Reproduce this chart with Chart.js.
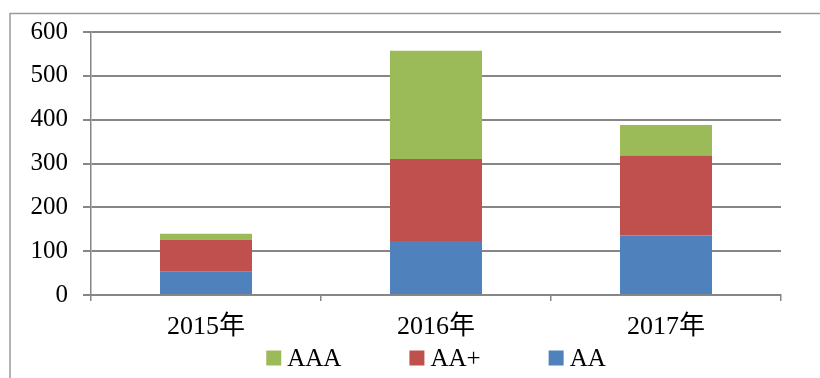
<!DOCTYPE html>
<html>
<head>
<meta charset="utf-8">
<script src="https://cdn.jsdelivr.net/npm/chart.js@4/dist/chart.umd.min.js"></script>
<style>
  html, body { margin: 0; padding: 0; background: #fff; }
  #wrap { width: 820px; height: 378px; position: relative; }
</style>
</head>
<body>
<div id="wrap"><canvas id="c" width="820" height="378"></canvas></div>
<script>
const categories = ["2015年", "2016年", "2017年"];
const aaValues = [53, 123, 136];
const aaPlusValues = [73, 187, 182];
const aaaValues = [14, 247, 70];
const yTicks = [0, 100, 200, 300, 400, 500, 600];

const serif = "'Liberation Serif', 'Times New Roman', 'Noto Sans CJK SC', serif";

// outer frame (top + left edge of the original Excel chart box)
const framePlugin = {
  id: "frame",
  beforeDraw(chart) {
    const ctx = chart.ctx;
    ctx.save();
    ctx.strokeStyle = "#9a9a9a";
    ctx.lineWidth = 1.5;
    ctx.beginPath();
    ctx.moveTo(10, 378);
    ctx.lineTo(10, 13.5);
    ctx.lineTo(820, 13.5);
    ctx.stroke();
    ctx.restore();
  }
};

// legend drawn in Excel spacing: AAA, AA+, AA
const legendPlugin = {
  id: "xlLegend",
  afterDraw(chart) {
    const ctx = chart.ctx;
    const items = chart.data.datasets.slice().reverse();
    const box = 15, gapText = 6, gapItem = 68, y = 358;
    ctx.save();
    ctx.font = "25px " + serif;
    ctx.textBaseline = "middle";
    const widths = items.map(d => box + gapText + ctx.measureText(d.label).width);
    const total = widths.reduce((a, b) => a + b, 0) + gapItem * (items.length - 1);
    let x = (chart.chartArea.left + chart.chartArea.right) / 2 - total / 2;
    items.forEach((d, i) => {
      ctx.fillStyle = d.backgroundColor;
      ctx.fillRect(x, y - box / 2, box, box);
      ctx.fillStyle = "#000";
      ctx.fillText(d.label, x + box + gapText, y + 1);
      x += widths[i] + gapItem;
    });
    ctx.restore();
  }
};

new Chart(document.getElementById("c").getContext("2d"), {
  type: "bar",
  data: {
    labels: categories,
    datasets: [
      { label: "AA", data: aaValues, backgroundColor: "#4f81bd" },
      { label: "AA+", data: aaPlusValues, backgroundColor: "#c0504d" },
      { label: "AAA", data: aaaValues, backgroundColor: "#9bbb59" }
    ]
  },
  options: {
    responsive: false,
    animation: false,
    layout: { padding: { left: 0, top: 32, right: 39, bottom: 28 } },
    datasets: { bar: { barPercentage: 0.4, categoryPercentage: 1 } },
    plugins: { legend: { display: false }, tooltip: { enabled: false } },
    scales: {
      x: {
        stacked: true,
        grid: { drawOnChartArea: false, color: "#868686", lineWidth: 1.5, tickLength: 6 },
        border: { color: "#868686", width: 2 },
        ticks: { color: "#000", font: { family: serif, size: 26 }, padding: 11 },
        afterFit(scale) { scale.height = 55; }
      },
      y: {
        stacked: true,
        min: 0,
        max: 600,
        afterBuildTicks(scale) { scale.ticks = yTicks.map(v => ({ value: v })); },
        grid: { color: "#868686", lineWidth: 2, tickLength: 8 },
        border: { color: "#868686", width: 1.5 },
        ticks: { color: "#000", font: { family: serif, size: 25 }, padding: 15 },
        afterFit(scale) { scale.width = 91; }
      }
    }
  },
  plugins: [framePlugin, legendPlugin]
});
</script>
</body>
</html>
